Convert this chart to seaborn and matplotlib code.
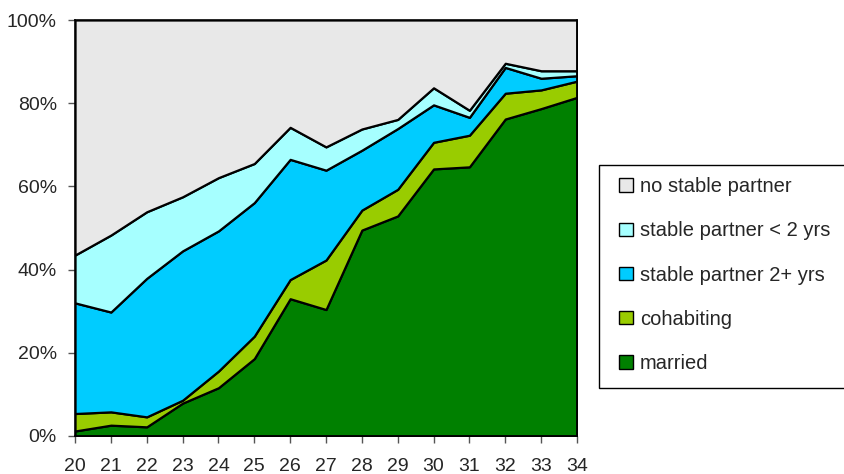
import matplotlib
matplotlib.use("Agg")
import matplotlib.pyplot as plt
import seaborn as sns
import numpy as np
from matplotlib.patches import Patch, Rectangle
from matplotlib.ticker import PercentFormatter

sns.set_theme(style="white")
plt.rcParams['font.family'] = ['Liberation Sans', 'DejaVu Sans']

# ages on the x axis
ages = list(range(20, 35))

# share of each relationship status by age (%)
married = [1.2, 2.6, 2.2, 7.9, 11.6, 18.6, 33.0, 30.4, 49.5, 52.9, 64.2, 64.7, 76.2, 78.7, 81.4]
cohabiting = [4.2, 3.2, 2.4, 0.7, 4.0, 5.4, 4.6, 11.9, 4.8, 6.4, 6.4, 7.6, 6.2, 4.5, 3.9]
stable_2plus = [26.6, 24.0, 33.3, 35.9, 33.7, 32.1, 28.9, 21.6, 14.4, 14.6, 9.0, 4.3, 6.2, 2.8, 1.3]
stable_lt2 = [11.5, 18.5, 16.0, 13.0, 12.8, 9.4, 7.7, 5.6, 5.1, 2.2, 4.1, 1.7, 1.0, 1.8, 1.2]
no_partner = [56.5, 51.7, 46.1, 42.5, 37.9, 34.5, 25.8, 30.5, 26.2, 23.9, 16.3, 21.7, 10.4, 12.2, 12.2]

labels = ["married", "cohabiting", "stable partner 2+ yrs",
          "stable partner < 2 yrs", "no stable partner"]
colors = ["#008000", "#99CC00", "#00CCFF", "#A6FFFF", "#E8E8E8"]

fig = plt.figure(figsize=(8.44, 4.74), dpi=100)
ax = fig.add_axes([0.0889, 0.0802, 0.5947, 0.8776])

ax.stackplot(ages, married, cohabiting, stable_2plus, stable_lt2, no_partner,
             colors=colors, edgecolor="black", linewidth=1.6)

ax.set_xlim(20, 34)
ax.set_ylim(0, 100)
ax.set_xticks(ages)
ax.set_yticks(np.arange(0, 101, 20))
ax.yaxis.set_major_formatter(PercentFormatter(decimals=0))
ax.tick_params(axis="both", which="major", direction="out", length=5, width=1,
               color="#555555", labelsize=14, bottom=True, left=True)
ax.tick_params(axis="x", pad=11)
ax.tick_params(axis="y", pad=8)
for s in ax.spines.values():
    s.set_color("black")
    s.set_linewidth(1.2)

# legend frame runs off the right edge like in the original
fig.patches.append(Rectangle((0.7097, 0.1814), 0.4, 0.4705, transform=fig.transFigure,
                             facecolor="white", edgecolor="black", linewidth=1))

handles = [Patch(facecolor=c, edgecolor="black", linewidth=1) for c in colors]
leg = fig.legend(handles[::-1], labels[::-1], loc="upper left",
                 bbox_to_anchor=(0.734, 0.626), frameon=False,
                 fontsize=14.5, handlelength=0.65, handleheight=0.65,
                 handletextpad=0.35, labelspacing=1.25, borderpad=0,
                 borderaxespad=0)

fig.savefig("out.png", dpi=100)
